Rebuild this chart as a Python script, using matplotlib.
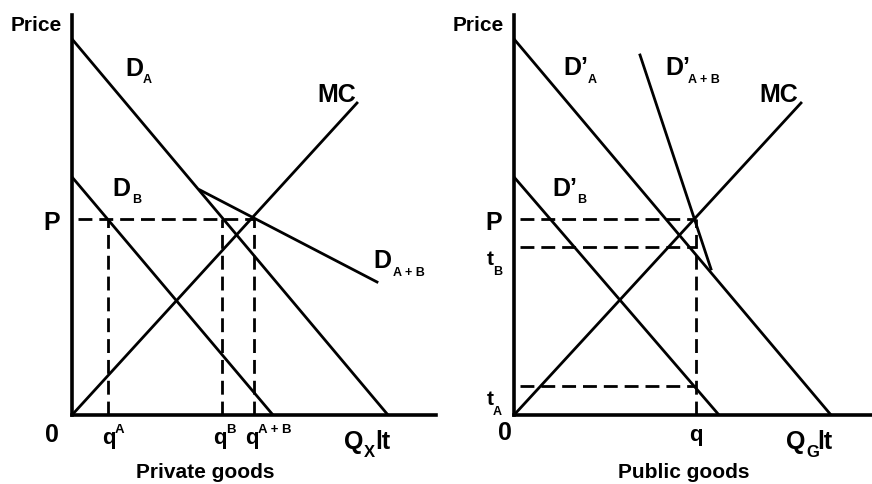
import matplotlib
matplotlib.use('Agg')
import matplotlib.pyplot as plt

plt.rcParams['font.family'] = ['Liberation Sans', 'DejaVu Sans']
plt.rcParams['font.weight'] = 'bold'

# private goods panel (quantity, price measured from the origin)
priv_da_q = [0, 316]
priv_da_p = [376, 0]
priv_db_q = [0, 201]
priv_db_p = [238, 0]
priv_mc_q = [0, 285]
priv_mc_p = [0, 312]
priv_dab_q = [128, 305]
priv_dab_p = [225, 133]
priv_price = 196
priv_q = [36, 150, 182]      # q^A, q^B, q^A+B

# public goods panel
pub_da_q = [0, 317]
pub_da_p = [376, 0]
pub_db_q = [0, 205]
pub_db_p = [238, 0]
pub_mc_q = [0, 287]
pub_mc_p = [0, 312]
pub_dab_q = [126, 197]
pub_dab_p = [360, 146]
pub_levels = [196, 168, 29]  # P, t_B, t_A
pub_q = 182

W, H = 872, 485
fig = plt.figure(figsize=(W / 100, H / 100), dpi=100)

# axes placed so the origin sits where it is in the picture
L = fig.add_axes([72 / W, (H - 416) / H, (436 - 72) / W, 400 / H])
R = fig.add_axes([514 / W, (H - 416) / H, (872 - 514) / W, 400 / H])
L.set_xlim(0, 364)
R.set_xlim(0, 358)

for ax in (L, R):
    ax.set_ylim(0, 400)
    ax.spines['top'].set_visible(False)
    ax.spines['right'].set_visible(False)
    ax.spines['left'].set_linewidth(2.6)
    ax.spines['bottom'].set_linewidth(2.6)
    ax.set_xticks([])
    ax.set_yticks([])
    ax.patch.set_alpha(0)

lw = 2.0
dash = (0, (5, 2.5))

L.plot(priv_da_q, priv_da_p, color='black', lw=lw)
L.plot(priv_db_q, priv_db_p, color='black', lw=lw)
L.plot(priv_mc_q, priv_mc_p, color='black', lw=lw)
L.plot(priv_dab_q, priv_dab_p, color='black', lw=lw)
L.hlines(priv_price, 6, priv_q[-1], color='black', lw=lw, linestyles=dash)
L.vlines(priv_q, 0, priv_price, color='black', lw=lw, linestyles=dash)

R.plot(pub_da_q, pub_da_p, color='black', lw=lw)
R.plot(pub_db_q, pub_db_p, color='black', lw=lw)
R.plot(pub_mc_q, pub_mc_p, color='black', lw=lw)
R.plot(pub_dab_q, pub_dab_p, color='black', lw=lw)
R.hlines(pub_levels, 6, pub_q, color='black', lw=lw, linestyles=dash)
R.vlines(pub_q, 0, pub_levels[0], color='black', lw=lw, linestyles=dash)


def put(ax, x0, px, py, s, size, ha='left'):
    # px, py are picture pixels; convert to the panel's data units
    ax.text(px - x0, 416 - py, s, fontsize=size, fontweight='bold',
            ha=ha, va='baseline', clip_on=False)


# left panel labels
put(L, 72, 36, 31, 'Price', 15, 'center')
put(L, 72, 125, 76, 'D', 18)
put(L, 72, 143, 83, 'A', 9)
put(L, 72, 317, 102, 'MC', 18)
put(L, 72, 112, 196, 'D', 18)
put(L, 72, 132, 203, 'B', 9)
put(L, 72, 373, 268, 'D', 18)
put(L, 72, 393, 276, 'A + B', 9)
put(L, 72, 43, 230, 'P', 18)
put(L, 72, 45, 442, '0', 18)
put(L, 72, 102, 444, 'q', 16)
put(L, 72, 115, 433, 'A', 9.5)
put(L, 72, 213, 444, 'q', 16)
put(L, 72, 226, 433, 'B', 9.5)
put(L, 72, 245, 444, 'q', 16)
put(L, 72, 258, 433, 'A + B', 9.5)
put(L, 72, 344, 449, 'Q', 18)
put(L, 72, 364, 457, 'X', 12)
put(L, 72, 375, 449, 'lt', 18)
put(L, 72, 205, 478, 'Private goods', 15, 'center')

# right panel labels
put(R, 514, 478, 31, 'Price', 15, 'center')
put(R, 514, 563, 75, 'D\u2019', 18)
put(R, 514, 588, 83, 'A', 9)
put(R, 514, 665, 75, 'D\u2019', 18)
put(R, 514, 688, 83, 'A + B', 9)
put(R, 514, 759, 102, 'MC', 18)
put(R, 514, 552, 196, 'D\u2019', 18)
put(R, 514, 577, 203, 'B', 9)
put(R, 514, 485, 230, 'P', 18)
put(R, 514, 487, 265, 't', 15)
put(R, 514, 493, 275, 'B', 9)
put(R, 514, 487, 405, 't', 15)
put(R, 514, 493, 415, 'A', 9)
put(R, 514, 498, 440, '0', 18)
put(R, 514, 696, 441, 'q', 16, 'center')
put(R, 514, 786, 449, 'Q', 18)
put(R, 514, 806, 457, 'G', 12)
put(R, 514, 817, 449, 'lt', 18)
put(R, 514, 684, 478, 'Public goods', 15, 'center')

fig.savefig('out.png', dpi=100, facecolor='white')
